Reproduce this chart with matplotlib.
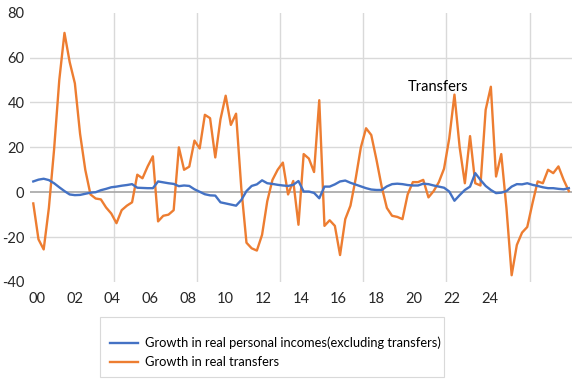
import matplotlib
matplotlib.use("Agg")
import matplotlib.pyplot as plt
from matplotlib.patches import Rectangle
import numpy as np

plt.rcParams['font.family'] = ['Lato', 'DejaVu Sans']
plt.rcParams['axes.unicode_minus'] = False

# datos trimestrales, desde 2000 T1
crec_ingresos = [4.8, 5.6, 6.0, 5.4, 4.0, 2.2, 0.5, -1.0, -1.3, -1.2, -0.7, -0.2,
                 0.0, 0.9, 1.5, 2.2, 2.5, 2.9, 3.2, 3.6, 2.0, 1.9, 1.8, 1.8,
                 4.8, 4.4, 4.0, 3.7, 2.7, 3.0, 2.8, 1.3, 0.2, -0.9, -1.4, -1.5,
                 -4.5, -5.0, -5.5, -6.0, -3.5, 0.5, 2.8, 3.5, 5.3, 4.0, 3.7, 3.3,
                 3.0, 2.8, 3.3, 5.0, 0.3, 0.3, -0.3, -2.7, 2.5, 2.5, 3.5, 4.8,
                 5.2, 4.2, 3.4, 2.6, 1.8, 1.2, 1.0, 1.0, 2.6, 3.6, 3.8, 3.6,
                 3.2, 3.0, 3.0, 3.8, 3.6, 3.0, 2.5, 2.0, 0.3, -3.8, -1.3, 1.0,
                 2.5, 8.5, 5.5, 2.8, 1.0, -0.4, -0.2, 0.5, 2.5, 3.6, 3.5, 4.0,
                 3.3, 2.8, 2.2, 1.8, 1.8, 1.5, 1.3, 1.8]

crec_transferencias = [-5, -21, -25.5, -7, 19, 50, 71, 58, 48.5, 26, 10, -1,
                       -2.8, -3.2, -6.8, -9.5, -13.8, -8, -6, -4.5, 7.8, 6.2, 11.5, 16,
                       -13, -10.5, -10, -8, 20, 10, 11.4, 23, 19.5, 34.5, 33, 15.5,
                       32.5, 43, 30, 35, 2, -22.5, -25, -26, -19, -4, 5.5, 10,
                       13.2, -1, 5, -14.5, 17, 15, 9, 41, -15, -12.5, -15, -28,
                       -12, -6, 6, 20, 28.5, 25.5, 14.5, 2.5, -7, -10.5, -11, -12,
                       -1, 4.5, 4.5, 5.5, -2.3, 0.5, 4.5, 10.5, 24, 43.5, 20, 4,
                       25, 4, 3, 36.7, 47, 7, 17, -7, -37, -23.5, -18, -15.5,
                       -5, 4.8, 4, 10, 8.5, 11.5, 5.5, 0.5]

etiquetas_x = ['00', '02', '04', '06', '08', '10', '12', '14', '16', '18', '20', '22', '24']

anios = 2000 + np.arange(len(crec_ingresos)) * 0.25

fig = plt.figure(figsize=(5.76, 3.79), dpi=100)
ax = fig.add_axes([0.052, 0.256, 0.941, 0.7105])

# grilla
for v in [60, 40, 20, -20]:
    ax.axhline(v, color='#d9d9d9', lw=1.0, zorder=0)
for g in 2003.865 + 4 * np.arange(6):
    ax.axvline(g, color='#d9d9d9', lw=1.0, zorder=0)
ax.axhline(0, color='#a6a6a6', lw=1.2, zorder=1)

ax.plot(anios, crec_ingresos, color='#4472C4', lw=1.7, zorder=3,
        label='Growth in real personal incomes(excluding transfers)')
ax.plot(anios, crec_transferencias, color='#ED7D31', lw=1.7, zorder=2,
        label='Growth in real transfers')

ax.text(2019.48, 46.9, 'Transfers', fontsize=10.5, ha='center', va='center', color='black')

ax.set_xlim(1999.84, 2025.9)
ax.set_ylim(-40, 80)
ax.set_yticks(np.arange(-40, 81, 20))
ax.set_xticks(2000.18 + 1.8125 * np.arange(len(etiquetas_x)))
ax.set_xticklabels(etiquetas_x)
ax.tick_params(axis='both', length=0, labelsize=10.5, colors='#262626')
ax.tick_params(axis='y', pad=4)
ax.tick_params(axis='x', pad=7)
for s in ax.spines.values():
    s.set_visible(False)

# leyenda sin marco, el marco va aparte
fig.legend(loc='upper left', bbox_to_anchor=(100 / 576, 1 - 327 / 379),
           borderaxespad=0, fontsize=9.3, frameon=False,
           handlelength=2.2, handletextpad=0.55, labelspacing=0.55, borderpad=0.75)
fig.patches.append(Rectangle((100 / 576, 1 - 377 / 379), 344 / 576, 60 / 379,
                             transform=fig.transFigure, fill=False,
                             edgecolor='#d9d9d9', lw=0.8))

plt.savefig('out.png', dpi=100)
